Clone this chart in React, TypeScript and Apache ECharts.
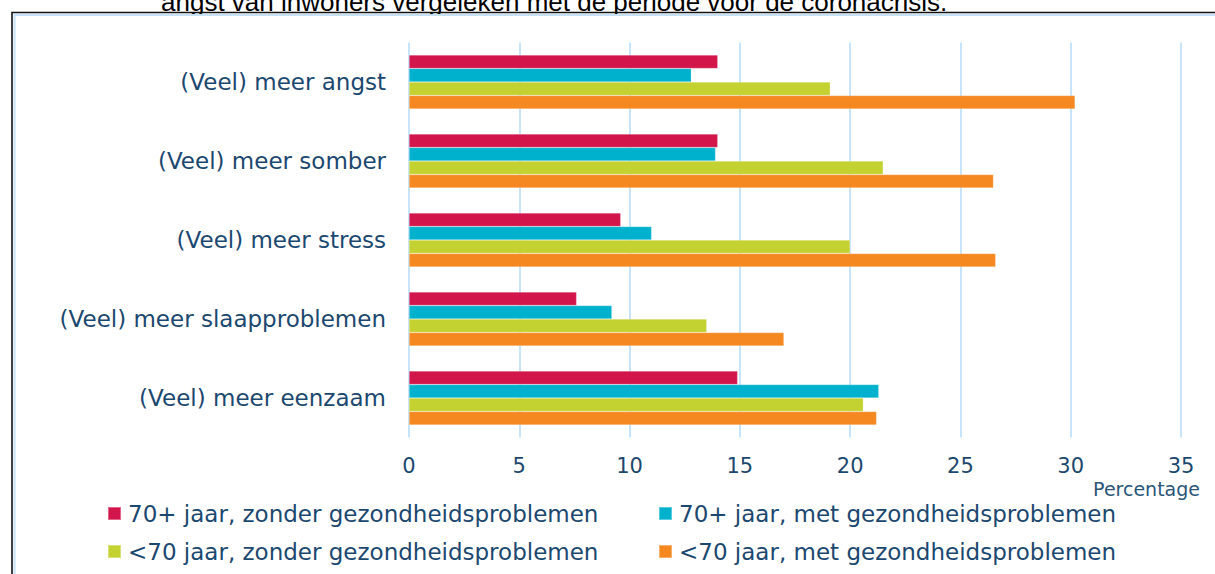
import React, { useEffect, useRef } from "react";
import * as echarts from "echarts";

const categories = [
  "(Veel) meer angst",
  "(Veel) meer somber",
  "(Veel) meer stress",
  "(Veel) meer slaapproblemen",
  "(Veel) meer eenzaam",
];

const seriesNames = [
  "70+ jaar, zonder gezondheidsproblemen",
  "70+ jaar, met gezondheidsproblemen",
  "<70 jaar, zonder gezondheidsproblemen",
  "<70 jaar, met gezondheidsproblemen",
];

const old70Zonder = [14.0, 14.0, 9.6, 7.6, 14.9];
const old70Met = [12.8, 13.9, 11.0, 9.2, 21.3];
const young70Zonder = [19.1, 21.5, 20.0, 13.5, 20.6];
const young70Met = [30.2, 26.5, 26.6, 17.0, 21.2];

const seriesValues = [old70Zonder, old70Met, young70Zonder, young70Met];
const colors = ["#D2154A", "#00B1CD", "#C4D231", "#F58820"];

const xTicks = { min: 0, max: 35, interval: 5 };
const axisName = "Percentage";
const titleText = "angst van inwoners vergeleken met de periode voor de coronacrisis.";

const textColor = "#1c4870";
const font = "DejaVu Sans";

export default function App() {
  const ref = useRef<HTMLDivElement>(null);

  useEffect(() => {
    if (!ref.current) return;
    const chart = echarts.init(ref.current, undefined, { renderer: "svg" });

    const legendPos = [
      { left: 107, top: 502 },
      { left: 658, top: 502 },
      { left: 107, top: 540 },
      { left: 658, top: 540 },
    ];

    chart.setOption({
      animation: false,
      backgroundColor: "#ffffff",
      grid: {
        left: 409,
        right: 34,
        top: 42.5,
        bottom: 136.5,
        containLabel: false,
      },
      xAxis: {
        type: "value",
        min: xTicks.min,
        max: xTicks.max,
        interval: xTicks.interval,
        axisLine: { show: false },
        axisTick: { show: false },
        axisLabel: {
          fontFamily: font,
          fontSize: 21,
          lineHeight: 20,
          color: textColor,
          margin: 18,
        },
        splitLine: {
          show: true,
          lineStyle: { color: "#c8e4fb", width: 2 },
        },
      },
      yAxis: {
        type: "category",
        inverse: true,
        data: categories,
        axisLine: { show: false },
        axisTick: { show: false },
        axisLabel: {
          fontFamily: font,
          fontSize: 23,
          color: textColor,
          margin: 23,
        },
      },
      legend: seriesNames.map((n, i) => ({
        data: [n],
        left: legendPos[i].left,
        top: legendPos[i].top,
        orient: "horizontal",
        padding: 0,
        icon: "rect",
        itemWidth: 13,
        itemHeight: 13,
        selectedMode: false,
        textStyle: {
          fontFamily: font,
          fontSize: 23,
          lineHeight: 22,
          color: textColor,
          padding: [0, 0, 0, 2],
        },
      })),
      series: seriesNames.map((n, i) => ({
        name: n,
        type: "bar",
        data: seriesValues[i],
        barWidth: 13.5,
        barGap: "0%",
        itemStyle: {
          color: colors[i],
          borderColor: "rgba(255,255,255,0.35)",
          borderWidth: 0.6,
        },
      })),
      color: colors,
      graphic: [
        {
          type: "text",
          x: 161,
          y: 15,
          style: {
            text: titleText,
            fontFamily: "Liberation Sans",
            fontSize: 26,
            fill: "#000000",
            verticalAlign: "bottom",
            align: "left",
          },
        },
        {
          type: "rect",
          z: 5,
          shape: { x: 12, y: 12.5, width: 1300, height: 700 },
          style: { fill: "none", stroke: "#111111", lineWidth: 1.6 },
          silent: true,
        },
        {
          type: "rect",
          z: 5,
          shape: { x: 14.5, y: 15, width: 1300, height: 700 },
          style: { fill: "none", stroke: "#c5e2fa", lineWidth: 2 },
          silent: true,
        },
        {
          type: "text",
          right: 15,
          top: 479,
          style: {
            text: axisName,
            fontFamily: font,
            fontSize: 19,
            fill: "#2a5578",
          },
        },
      ],
    });

    return () => chart.dispose();
  }, []);

  return (
    <div
      ref={ref}
      style={{ position: "absolute", left: 0, top: 0, width: 1215, height: 574 }}
    />
  );
}
